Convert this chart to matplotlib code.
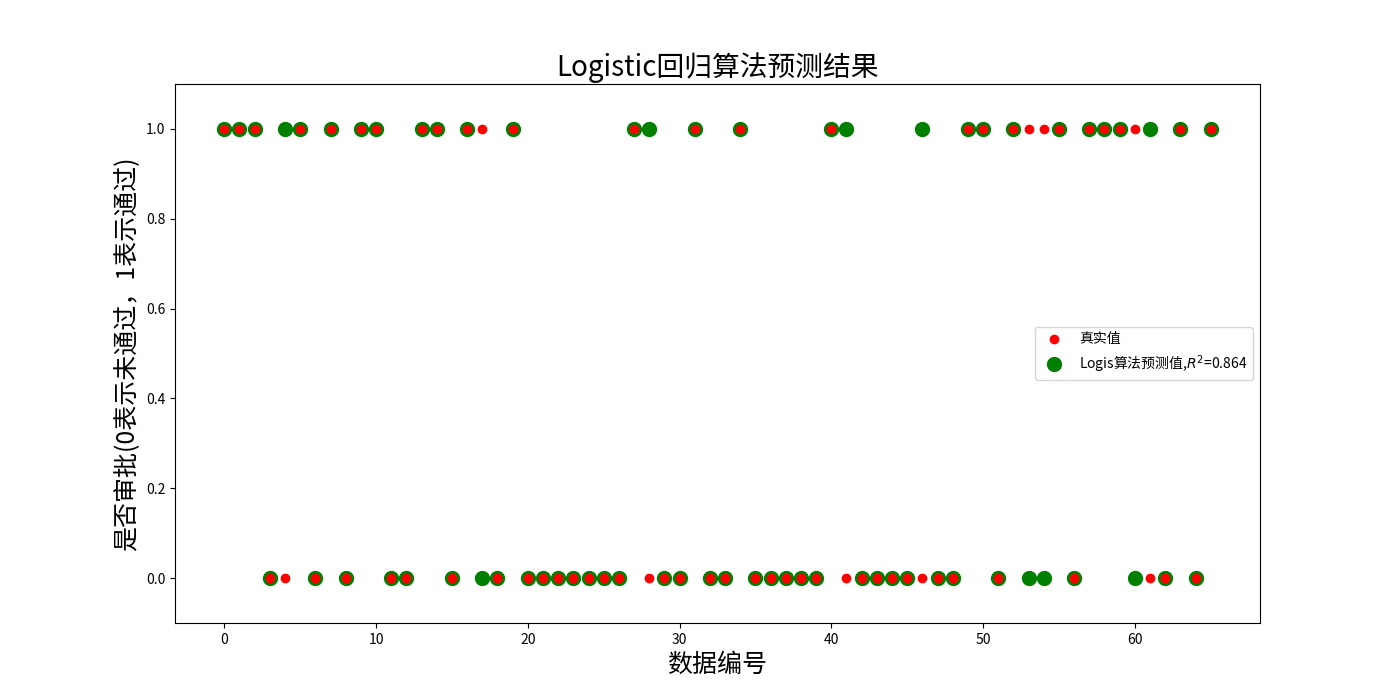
import matplotlib
matplotlib.use("Agg")
import matplotlib.pyplot as plt
import numpy as np

plt.rcParams['font.family'] = ['Noto Sans CJK SC', 'DejaVu Sans']
plt.rcParams['axes.unicode_minus'] = False

y_true = [1,1,1,0,0,1,0,1,0,1,1,0,0,1,1,0,1,1,0,1,
          0,0,0,0,0,0,0,1,0,0,0,1,0,0,1,0,0,0,0,0,
          1,0,0,0,0,0,0,0,0,1,1,0,1,1,1,1,0,1,1,1,
          1,0,0,1,0,1]
y_pred = [1,1,1,0,1,1,0,1,0,1,1,0,0,1,1,0,1,0,0,1,
          0,0,0,0,0,0,0,1,1,0,0,1,0,0,1,0,0,0,0,0,
          1,1,0,0,0,0,1,0,0,1,1,0,1,0,0,1,0,1,1,1,
          0,1,0,1,0,1]
r2 = 0.864
x = np.arange(len(y_true))

fig, ax = plt.subplots(figsize=(14, 7), dpi=100)
ax.plot(x, y_true, 'ro', markersize=6, label='真实值', zorder=3)
ax.plot(x, y_pred, 'go', markersize=10, label='Logis算法预测值,$R^2$=%.3f' % r2, zorder=2)
ax.set_ylim(-0.1, 1.1)
ax.set_title('Logistic回归算法预测结果', fontsize=20)
ax.set_xlabel('数据编号', fontsize=18)
ax.set_ylabel('是否审批(0表示未通过，1表示通过)', fontsize=18)
ax.legend(loc='center right')
fig.savefig('out.png')
